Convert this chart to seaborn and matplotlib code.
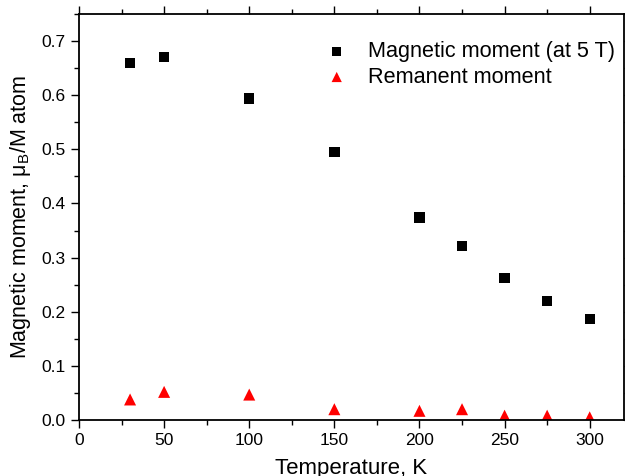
import matplotlib
matplotlib.use("Agg")
import matplotlib.pyplot as plt
import seaborn as sns
import pandas as pd
from matplotlib.ticker import MultipleLocator

temperature = [30, 50, 100, 150, 200, 225, 250, 275, 300]
moment_5T = [0.660, 0.671, 0.594, 0.495, 0.374, 0.321, 0.262, 0.220, 0.187]
remanent = [0.038, 0.052, 0.047, 0.020, 0.017, 0.020, 0.008, 0.008, 0.005]
labels = ["Magnetic moment (at 5 T)", "Remanent moment"]

sns.set_theme(style="ticks")
plt.rcParams['font.family'] = ['Liberation Sans', 'DejaVu Sans']
plt.rcParams['mathtext.fontset'] = 'custom'
plt.rcParams['mathtext.rm'] = 'Liberation Sans'
plt.rcParams['mathtext.it'] = 'Liberation Sans:italic'

df1 = pd.DataFrame({"T": temperature, "m": moment_5T})
df2 = pd.DataFrame({"T": temperature, "m": remanent})

fig = plt.figure(figsize=(6.25, 4.76), dpi=100)
ax = fig.add_axes([0.1264, 0.1176, 0.8716, 0.853])

sns.scatterplot(data=df1, x="T", y="m", marker="s", color="black", s=55,
                edgecolor="none", ax=ax, label=labels[0])
sns.scatterplot(data=df2, x="T", y="m", marker="^", color="red", s=75,
                edgecolor="none", ax=ax, label=labels[1])

ax.set_xlim(0, 320)
ax.set_ylim(0, 0.75)
ax.xaxis.set_major_locator(MultipleLocator(50))
ax.xaxis.set_minor_locator(MultipleLocator(25))
ax.yaxis.set_major_locator(MultipleLocator(0.1))
ax.yaxis.set_minor_locator(MultipleLocator(0.05))
ax.yaxis.set_major_formatter(matplotlib.ticker.FormatStrFormatter('%.1f'))
ax.tick_params(which='both', direction='out', top=True, right=True,
               labeltop=False, labelright=False, width=1.0, color='black',
               labelsize=12.5, labelcolor='black')
ax.tick_params(which='major', length=6)
ax.tick_params(which='minor', length=3.5)
for sp in ax.spines.values():
    sp.set_linewidth(1.3)
    sp.set_color('black')

ax.set_xlabel("Temperature, K", fontsize=16, labelpad=7, color='black')
ax.set_ylabel(r"Magnetic moment, $\mathregular{\mu_B}$/M atom", fontsize=15.5,
              labelpad=6, color='black')

leg = ax.legend(loc='upper right', frameon=False, fontsize=15.6, handletextpad=0.45,
                borderaxespad=0.3, labelspacing=0.2, markerscale=0.85,
                bbox_to_anchor=(1.012, 0.97))
for t in leg.get_texts():
    t.set_color('black')

fig.savefig("out.png", dpi=100)
